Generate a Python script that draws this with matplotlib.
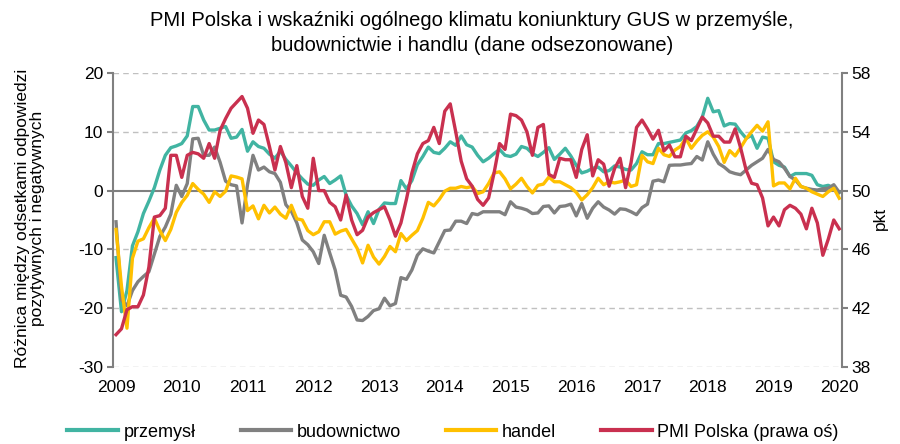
import matplotlib
matplotlib.use("Agg")
import matplotlib.pyplot as plt
from matplotlib.lines import Line2D

plt.rcParams['font.family'] = ['Liberation Sans', 'DejaVu Sans']
plt.rcParams['axes.unicode_minus'] = False

# ---------------- data (monthly, Jan 2009 - Jan 2020) ----------------
years = [str(y) for y in range(2009, 2021)]

przemysl = [
    -11.4, -20.6, -17.0, -9.4, -7.0, -3.9, -1.8, 0.5, 3.5, 6.0, 7.3, 7.6,
    8.0, 9.3, 14.3, 14.3, 12.0, 10.3, 10.3, 10.6, 10.9, 8.9, 9.1, 10.4,
    6.7, 8.3, 7.5, 7.2, 6.2, 5.5, 6.7, 5.3, 4.2, 3.0, 2.0, 1.1,
    0.9, 1.8, 2.4, 1.2, 1.8, 2.5, -0.8, -2.6, -3.9, -5.8, -3.6, -5.6,
    -3.2, -2.1, -2.2, -2.2, 1.7, 0.3, 1.7, 4.4, 5.8, 7.4, 6.5, 6.3,
    7.2, 8.3, 7.7, 9.3, 7.8, 7.4, 6.0, 4.9, 5.5, 6.3, 7.0, 6.0,
    5.8, 6.2, 7.5, 7.2, 6.3, 5.8, 6.5, 7.3, 5.3, 6.2, 7.2, 5.9,
    4.3, 3.0, 3.3, 3.8, 4.0, 3.2, 3.4, 4.2, 4.0, 3.6, 3.5, 4.6,
    6.6, 6.1, 6.1, 8.0, 8.0, 8.2, 8.4, 8.6, 9.8, 10.2, 10.9, 12.5,
    15.7, 13.4, 13.6, 11.0, 11.4, 11.3, 10.0, 8.9, 9.4, 7.2, 9.1, 8.9,
    4.9, 4.3, 4.0, 2.4, 2.9, 2.9, 2.9, 2.6, 1.0, 0.7, 0.9, 0.4,
    -0.3]

budownictwo = [
    -5.3, -18.6, -19.6, -17.0, -15.5, -14.6, -13.8, -10.8, -7.8, -6.2, -4.0, 0.9,
    -1.0, 1.2, 8.8, 8.9, 6.0, 6.0, 7.4, 4.8, 1.6, 1.0, 0.8, -5.5,
    1.0, 6.0, 3.5, 4.0, 3.2, 2.9, 1.4, -2.4, -3.5, -5.5, -8.4, -9.2,
    -10.4, -12.4, -7.6, -10.6, -13.5, -17.8, -18.1, -19.7, -22.0, -22.1, -21.4, -20.4,
    -20.1, -18.3, -19.6, -19.2, -14.8, -15.1, -13.5, -11.0, -9.9, -10.3, -10.6, -8.7,
    -6.8, -6.7, -5.2, -5.2, -5.6, -3.9, -4.1, -3.6, -3.6, -3.6, -3.6, -4.1,
    -1.9, -2.8, -3.0, -3.3, -3.9, -3.8, -2.7, -2.6, -3.8, -2.7, -2.6, -2.3,
    -4.3, -2.2, -4.7, -3.0, -1.9, -2.8, -3.3, -4.0, -3.1, -3.2, -3.6, -4.1,
    -2.9, -2.3, 1.6, 1.8, 1.5, 4.3, 4.35, 4.35, 4.5, 4.6, 5.8, 5.2,
    8.3, 6.2, 4.6, 4.0, 3.2, 2.9, 2.7, 3.5, 4.3, 4.9, 5.5, 7.0,
    5.3, 4.9, 3.8, 2.4, 1.8, 0.7, 0.4, 0.2, 0.1, 0.3, 0.4, 1.0,
    -0.3]

handel = [
    -6.6, -16.3, -23.4, -11.5, -8.6, -8.2, -6.3, -4.7, -6.8, -8.5, -6.6, -3.7,
    -2.0, -0.8, 1.2, 0.2, -0.6, -2.0, -0.2, -1.0, -0.1, 2.5, 2.3, 2.0,
    -3.4, -2.6, -4.8, -2.5, -3.8, -2.8, -4.0, -4.7, -2.5, -4.8, -5.0, -6.8,
    -7.5, -7.0, -5.3, -5.3, -7.4, -6.9, -6.6, -8.2, -9.8, -12.3, -9.3, -11.3,
    -12.5, -11.2, -9.5, -10.4, -7.3, -8.5, -7.6, -6.8, -4.7, -2.0, -2.6, -1.5,
    -0.1, 0.4, 0.4, 0.7, 0.5, 0.7, -0.5, -0.2, 1.2, 3.0, 3.2, 2.0,
    0.3, 1.1, 2.1, 0.7, -0.4, 0.9, 1.1, 2.3, 1.5, 1.5, 1.0, 0.5,
    -0.3, -1.6, -0.7, 0.5, 2.1, 1.0, 1.5, 1.3, 1.5, 1.8, 0.7, 1.0,
    6.0, 4.9, 4.6, 7.2, 6.1, 5.8, 6.9, 7.5, 8.9, 7.2, 8.4, 9.4,
    10.0, 9.1, 7.5, 4.8, 6.8, 5.9, 7.3, 8.8, 10.0, 11.1, 10.1, 11.7,
    0.8, 1.3, 1.3, 0.3, 2.1, 0.7, 0.4, -0.2, -0.6, -1.0, -0.2, 0.4,
    -1.3]

pmi = [
    40.2, 40.6, 41.9, 42.1, 42.1, 42.9, 44.8, 48.2, 48.3, 48.8, 52.4, 52.4,
    50.9, 52.4, 52.6, 52.5, 52.2, 53.2, 52.2, 54.1, 54.9, 55.6, 56.0, 56.4,
    55.6, 53.9, 54.8, 54.5, 53.0, 51.4, 53.0, 51.9, 50.2, 51.7, 49.6, 48.8,
    52.2, 50.0, 50.0, 49.2, 48.9, 48.0, 49.7, 48.0, 47.0, 47.3, 48.2, 48.5,
    48.7, 48.9, 48.0, 46.9, 47.8, 49.4, 51.2, 52.5, 53.2, 53.4, 54.3, 53.2,
    55.4, 55.9, 54.0, 52.0, 50.8, 50.3, 49.4, 49.0, 49.5, 51.2, 53.2, 52.8,
    55.2, 55.1, 54.8, 54.0, 52.4, 54.3, 54.5, 51.1, 50.9, 52.2, 52.1, 52.1,
    50.9, 52.8, 53.8, 51.0, 52.1, 51.8, 50.3, 51.5, 52.2, 50.2, 51.9, 54.3,
    54.8, 54.2, 53.5, 54.1, 52.7, 53.1, 52.3, 52.3, 53.7, 53.4, 54.2, 55.0,
    54.6, 53.7, 53.7, 53.3, 53.3, 54.2, 52.9, 51.4, 50.5, 50.4, 49.5, 47.6,
    48.2, 47.6, 48.7, 49.0, 48.8, 48.4, 47.4, 48.8, 47.8, 45.6, 46.7, 48.0,
    47.4]

labels = ['przemysł', 'budownictwo', 'handel', 'PMI Polska (prawa oś)']
colors = ['#41B4A2', '#808080', '#FFC000', '#C9304F']

# ---------------- figure ----------------
W, H = 900, 444
fig = plt.figure(figsize=(W / 100, H / 100), dpi=100)
L, R, T, B = 113, 842, 73, 367
ax = fig.add_axes([L / W, 1 - B / H, (R - L) / W, (B - T) / H])
ax2 = ax.twinx()

x = list(range(len(pmi)))
lw = 2.4
GRAY = '#808080'

for yv in [-30, -20, -10, 10, 20]:
    ax.axhline(yv, color='#C0C0C0', lw=1.0, dashes=(4, 3), zorder=1)
ax.axhline(0, color=GRAY, lw=1.5, zorder=1.5)

ax.plot(x, przemysl, color=colors[0], lw=lw, zorder=3, solid_joinstyle='round')
ax.plot(x, budownictwo, color=colors[1], lw=lw, zorder=3, solid_joinstyle='round')
ax.plot(x, handel, color=colors[2], lw=lw, zorder=3, solid_joinstyle='round')
ax2.plot(x, pmi, color=colors[3], lw=lw, zorder=3, solid_joinstyle='round')

ax.set_xlim(-0.55, 132.5)
ax.set_ylim(-30, 20)
ax2.set_ylim(38, 58)
ax.set_yticks(range(-30, 21, 10))
ax2.set_yticks(range(38, 59, 4))
ax.set_xticks(range(0, 133, 12))
ax.set_xticklabels(years)

for a in (ax, ax2):
    for s in a.spines.values():
        s.set_visible(False)
ax.spines['left'].set_visible(True)
ax.spines['left'].set_color(GRAY)
ax.spines['left'].set_linewidth(1.5)
ax2.spines['right'].set_visible(True)
ax2.spines['right'].set_color(GRAY)
ax2.spines['right'].set_linewidth(1.5)

FS = 12.5
ax.tick_params(axis='y', direction='out', length=4, width=1.5, color=GRAY,
               labelsize=FS, pad=3)
ax2.tick_params(axis='y', direction='out', length=4, width=1.5, color=GRAY,
                labelsize=FS, pad=3)
ax.tick_params(axis='x', length=0, labelsize=FS, pad=9)

fig.text(30 / W, 1 - 218 / H,
         'Różnica między odsetkami odpowiedzi\npozytywnych i negatywnych',
         rotation=90, ha='center', va='center', fontsize=FS, linespacing=1.05,
         multialignment='center')
fig.text(880 / W, 1 - 218 / H, 'pkt', rotation=90, ha='center', va='center',
         fontsize=FS)

fig.text(472 / W, 1 - 33 / H,
         'PMI Polska i wskaźniki ogólnego klimatu koniunktury GUS w przemyśle,\n'
         'budownictwie i handlu (dane odsezonowane)',
         ha='center', va='center', fontsize=14.5, linespacing=1.45)

handles = [Line2D([], [], color=c, lw=3) for c in colors]
fig.legend(handles, labels, loc='center', bbox_to_anchor=(453 / W, 1 - 432 / H),
           ncol=4, frameon=False, fontsize=13, handlelength=2.8,
           handletextpad=0.3, columnspacing=2.5, borderaxespad=0)

fig.savefig('out.png', dpi=100)
